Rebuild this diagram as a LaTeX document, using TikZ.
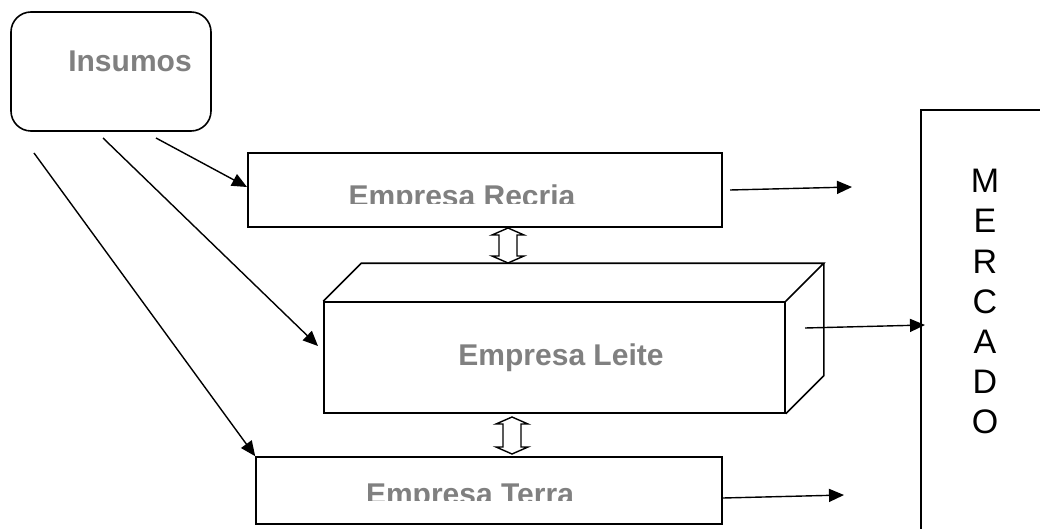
\documentclass[tikz,border=0pt]{standalone}
\usepackage{fontspec}
\setmainfont{Liberation Sans}
\usetikzlibrary{arrows.meta}
\definecolor{lbl}{HTML}{808080}
\begin{document}
\begin{tikzpicture}[x=1pt,y=-1pt, line width=1.6pt,
  box/.style={draw, rectangle, inner sep=0pt},
  lab/.style={font=\fontsize{30}{30}\selectfont\bfseries, text=lbl, inner sep=0pt, anchor=base},
  letter/.style={font=\fontsize{34}{34}\selectfont, inner sep=0pt, anchor=base},
  conn/.style={line width=1.4pt, -{Triangle[length=15pt,width=13pt]}},
  dbl/.style={draw, fill=white, line width=1.4pt, line join=miter}]
\clip (0,0) rectangle (1040,529);
\fill[white] (0,0) rectangle (1040,529);
% boxes
\node[box, rounded corners=20pt, minimum width=200pt, minimum height=119pt] (insumos) at (111,71.5) {};
\node[lab] (tins) at (130,72) {Insumos};
\node[box, minimum width=474pt, minimum height=74pt] (recria) at (485,190) {};
\node[box, minimum width=461pt, minimum height=111pt] (leite) at (554.5,357.5) {};
\node[box, minimum width=466pt, minimum height=67pt] (terra) at (489,490.5) {};
\node[box, minimum width=160pt, minimum height=460pt, anchor=north west] (mercado) at (920,109) {};
% cuboid faces
\draw[line join=miter] (leite.north west) -- ++(38,-38) -- ([shift={(38pt,38pt)}]leite.north east) -- (leite.north east);
\draw[line join=miter] ([shift={(38pt,38pt)}]leite.north east) -- ([shift={(38pt,38pt)}]leite.south east) -- (leite.south east);
% labels
\begin{scope}
  \clip (248,153) rectangle (722,203.5);
  \node[lab] (trec) at (462,206.5) {Empresa Recria};
\end{scope}
\node[lab] (tlei) at (561,365) {Empresa Leite};
\begin{scope}
  \clip (256,457) rectangle (722,500.5);
  \node[lab] (tter) at (470,504.5) {Empresa Terra};
\end{scope}
\foreach \l [count=\i from 0] in {M,E,R,C,A,D,O}
  \node[letter] (m\i) at (985,193+40*\i) {\l};
% connector endpoints
\coordinate (i1) at (156,138);
\coordinate (i2) at (103,138);
\coordinate (i3) at (34,153);
\coordinate (r1) at (247,187);
\coordinate (l1) at (318,346);
\coordinate (ro0) at (730,190);
\coordinate (ro1) at (852,187);
\coordinate (lo0) at (805,328);
\coordinate (lo1) at (925,325);
\coordinate (to0) at (723,498);
\coordinate (to1) at (844,495);
\draw[conn] (i1) -- (r1);
\draw[conn] (i2) -- (l1);
\draw[conn] (i3) -- (terra.north west);
\draw[conn] (ro0) -- (ro1);
\draw[conn] (lo0) -- (lo1);
\draw[conn] (to0) -- (to1);
% double arrows
\coordinate (d1) at (508,228);
\draw[dbl] (d1) -- ++(16,7) -- ++(-7,0) -- ++(0,21) -- ++(7,0) -- ++(-16,7) -- ++(-16,-7) -- ++(7,0) -- ++(0,-21) -- ++(-7,0) -- cycle;
\coordinate (d2) at (512,417);
\draw[dbl] (d2) -- ++(16,7) -- ++(-7,0) -- ++(0,23) -- ++(7,0) -- ++(-16,7) -- ++(-16,-7) -- ++(7,0) -- ++(0,-23) -- ++(-7,0) -- cycle;
\end{tikzpicture}
\end{document}
